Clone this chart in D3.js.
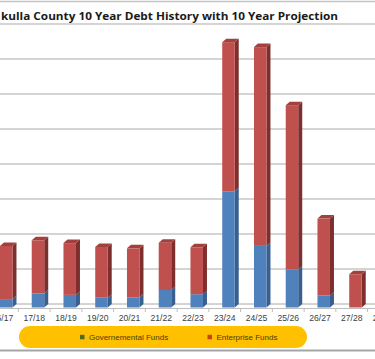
<!DOCTYPE html>
<html><head><meta charset="utf-8">
<script src="https://cdn.jsdelivr.net/npm/d3@7"></script>
<style>html,body{margin:0;padding:0;background:#fff;overflow:hidden}</style>
</head><body>
<svg id="c" width="375" height="359"></svg>
<script>
const categories = ["16/17","17/18","18/19","19/20","20/21","21/22","22/23","23/24","24/25","25/26","26/27","27/28","28/29"];
const governmental = [1.2, 2.0, 1.8, 1.4, 1.45, 2.5, 1.9, 16.6, 8.8, 5.4, 1.7, 0, 0];
const enterprise   = [7.6, 7.6, 7.4, 7.25, 7.0, 6.75, 6.7, 21.3, 28.4, 23.5, 11.0, 4.75, 0];
const gridTicks = [0,5,10,15,20,25,30,35,40];
const seriesNames = ["Governemental Funds","Enterprise Funds"];
const title = "kulla County 10 Year Debt History with 10 Year Projection";

const svg = d3.select("#c");
const W = 375, H = 359;
const depth = {dx: 4, dy: -3.5};

const x = d3.scaleBand().domain(categories).range([-13.4, -13.4 + 31.75*categories.length]);
const y = d3.scaleLinear().domain([0, 40]).range([307.5, 27.5]); // front plane
const yBack = v => y(v) + depth.dy;

// top border line
svg.append("line").attr("x1",0).attr("x2",W).attr("y1",1.5).attr("y2",1.5)
  .attr("stroke","#c4c4c4").attr("stroke-width",1.6);

// title
svg.append("text").attr("x",1).attr("y",20).text(title)
  .attr("font-family","'Open Sans','Liberation Sans',sans-serif").attr("font-weight","bold")
  .attr("font-size",10.5).attr("fill","#1a1a1a")
  .attr("textLength",337).attr("lengthAdjust","spacingAndGlyphs");

// gridlines (back wall)
svg.append("g").selectAll("line").data(gridTicks).join("line")
  .attr("x1",0).attr("x2",W)
  .attr("y1",d=>yBack(d)).attr("y2",d=>yBack(d))
  .attr("stroke","#c6c6c6").attr("stroke-width",1.6);

// axis line (front floor edge)
const axisY = y(0) + 1;
const axisG = svg.append("g").attr("transform",`translate(0,${axisY})`)
  .call(d3.axisBottom(x).tickSize(0).tickSizeOuter(0).tickPadding(6));
axisG.select(".domain").attr("stroke","#bdbdbd").attr("stroke-width",1.2).attr("d",`M0,0H${W}`);
axisG.selectAll("text").attr("font-family","'Liberation Sans',Arial,sans-serif")
  .attr("font-size",8.6).attr("fill","#404040");
// boundary tick marks
svg.append("g").selectAll("line").data(categories).join("line")
  .attr("x1",d=>x(d)+x.bandwidth()).attr("x2",d=>x(d)+x.bandwidth())
  .attr("y1",axisY).attr("y2",axisY+3.5)
  .attr("stroke","#bdbdbd").attr("stroke-width",1);

// stacked 3D bars
const rows = categories.map((c,i)=>({cat:c, gov:governmental[i], ent:enterprise[i]}));
const stack = d3.stack().keys(["gov","ent"])(rows);
const colors = {
  gov: {front:"#4f81bd", side:"#385f8f", top:"#6d96c9"},
  ent: {front:"#c0504d", side:"#7e2f2d", top:"#a3403d"}
};
const barW = 12.5;
const barsG = svg.append("g");
rows.forEach((r,i)=>{
  const cx = x(r.cat) + x.bandwidth()/2;
  const x0 = cx - 2.5, x1 = x0 + barW;
  let topKey = null;
  stack.forEach(s=>{ if (s[i][1] - s[i][0] > 0) topKey = s.key; });
  stack.forEach(s=>{
    const v0 = s[i][0], v1 = s[i][1];
    if (v1 - v0 <= 0) return;
    const c = colors[s.key];
    const yb = y(v0), yt = y(v1);
    const g = barsG.append("g");
    g.append("path").attr("d",`M${x1},${yb}L${x1+depth.dx},${yb+depth.dy}L${x1+depth.dx},${yt+depth.dy}L${x1},${yt}Z`)
      .attr("fill",c.side);
    g.append("rect").attr("x",x0).attr("y",yt).attr("width",barW).attr("height",yb-yt).attr("fill",c.front);
    if (s.key === topKey) {
      g.append("path").attr("d",`M${x0},${yt}L${x1},${yt}L${x1+depth.dx},${yt+depth.dy}L${x0+depth.dx},${yt+depth.dy}Z`)
        .attr("fill",c.top);
    }
  });
});

// legend
const lg = svg.append("g");
lg.append("rect").attr("x",19).attr("y",326).attr("width",288).attr("height",22)
  .attr("rx",11).attr("fill","#ffc000");
const legendItems = [
  {name:seriesNames[0], color:"#4e6b1f", x:80},
  {name:seriesNames[1], color:"#c9421c", x:207.5}
];
legendItems.forEach(d=>{
  lg.append("rect").attr("x",d.x).attr("y",334.8).attr("width",4.5).attr("height",4.5).attr("fill",d.color);
  lg.append("text").attr("x",d.x+9).attr("y",340).text(d.name)
    .attr("font-family","'Liberation Sans',Arial,sans-serif").attr("font-size",8)
    .attr("fill","#4a3c00");
});

// bottom border line
svg.append("line").attr("x1",0).attr("x2",W).attr("y1",350.5).attr("y2",350.5)
  .attr("stroke","#a6a6a6").attr("stroke-width",2);
</script>
</body></html>
